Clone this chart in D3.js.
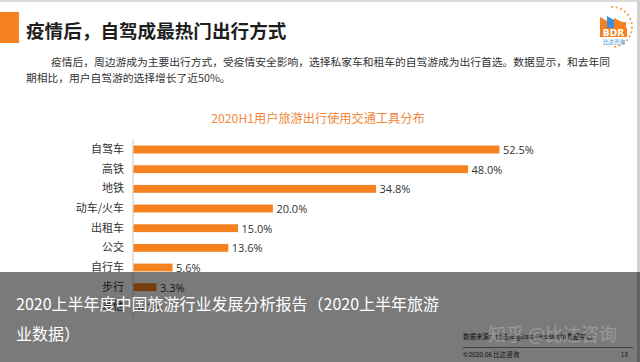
<!DOCTYPE html>
<html><head><meta charset="utf-8">
<script src="https://cdn.jsdelivr.net/npm/d3@7/dist/d3.min.js"></script>
<style>
html,body{margin:0;padding:0;background:#fff;}
svg{display:block;font-family:"Noto Sans CJK SC","Noto Sans",sans-serif;}
</style></head>
<body>
<script>
const categories = ["自驾车","高铁","地铁","动车/火车","出租车","公交","自行车","步行","其他"];
const values = [52.5, 48.0, 34.8, 20.0, 15.0, 13.6, 5.6, 3.3, 0.1];
const valueLabels = ["52.5%","48.0%","34.8%","20.0%","15.0%","13.6%","5.6%","3.3%","0.1%"];
const pageTitle = "疫情后，自驾成最热门出行方式";
const bodyLines = ["疫情后，周边游成为主要出行方式，受疫情安全影响，选择私家车和租车的自驾游成为出行首选。数据显示，和去年同",
                   "期相比，用户自驾游的选择增长了近50%。"];
const chartTitle = "2020H1用户旅游出行使用交通工具分布";
const captionLines = ["2020上半年度中国旅游行业发展分析报告（2020上半年旅游","业数据）"];

const W = 640, H = 362;
const svg = d3.select("body").append("svg").attr("width", W).attr("height", H);

// page frame
svg.append("rect").attr("x",0).attr("y",0).attr("width",W).attr("height",H).attr("fill","#fff");
svg.append("rect").attr("x",0).attr("y",0).attr("width",W).attr("height",2).attr("fill","#dcdcdc");
svg.append("rect").attr("x",637).attr("y",0).attr("width",3).attr("height",H).attr("fill","#d0d0d0");

// header
svg.append("rect").attr("x",0).attr("y",12).attr("width",19).attr("height",31).attr("fill","#f5821f");
svg.append("text").attr("x",26).attr("y",29).attr("dominant-baseline","central")
  .attr("font-size",18.6).attr("font-weight","bold").attr("fill","#1e1e1e").text(pageTitle);

svg.append("text").attr("x",51).attr("y",61).attr("dominant-baseline","central")
  .attr("font-size",10.75).attr("fill","#333").text(bodyLines[0]);
svg.append("text").attr("x",26).attr("y",77).attr("dominant-baseline","central")
  .attr("font-size",10.75).attr("fill","#333").text(bodyLines[1]);

// logo (decorative)
const logo = svg.append("g");
const arcR = 20, cx = 612, cy = 27;
for (let i = 0; i < 14; i++) {
  const a = Math.PI*0.55 + i*(Math.PI*0.95/13);
  logo.append("circle").attr("cx", cx - arcR*Math.cos(a)).attr("cy", cy + arcR*Math.sin(a))
    .attr("r",1.1).attr("fill","#f0a040");
}
logo.append("path").attr("d","M600,30 L600,17 L607,21 L607,30 Z").attr("fill","#f5821f");
logo.append("path").attr("d","M607,30 L607,16 L614,20 L614,30 Z").attr("fill","#3a8fd8");
logo.append("path").attr("d","M614,30 L614,18 L622,22 L626,22 L626,30 Z").attr("fill","#f5821f");
logo.append("rect").attr("x",600).attr("y",28).attr("width",27).attr("height",9).attr("fill","#f5821f");
logo.append("text").attr("x",613.5).attr("y",33).attr("text-anchor","middle").attr("dominant-baseline","central")
  .attr("font-size",9).attr("font-weight","bold").attr("fill","#fff").attr("font-family","DejaVu Sans").text("BDR");
logo.append("text").attr("x",614).attr("y",42).attr("text-anchor","middle").attr("dominant-baseline","central")
  .attr("font-size",5.5).attr("fill","#3a8fd8").text("比达咨询");

// chart title
svg.append("text").attr("x",318).attr("y",118).attr("text-anchor","middle").attr("dominant-baseline","central")
  .attr("font-size",12.2).attr("fill","#f0883a").text(chartTitle);

// scales
const x = d3.scaleLinear().domain([0, 60]).range([133, 133 + 60*6.97]);
const y = d3.scaleBand().domain(categories).range([139.7, 316.7]).paddingInner(0.6).paddingOuter(0.3);

// axis
const yAxis = d3.axisLeft(y).tickSize(0).tickPadding(9);
const ag = svg.append("g").attr("transform",`translate(${x(0)},0)`).call(yAxis);
ag.select(".domain").attr("stroke","#c8c8c8").attr("d","M0,140V318");
ag.selectAll("text").attr("font-size",11).attr("fill","#333")
  .attr("font-family",'"Noto Sans CJK SC",sans-serif');

// bars
const data = categories.map((c,i)=>({c, v: values[i], l: valueLabels[i]}));
svg.append("g").selectAll("rect").data(data).join("rect")
  .attr("x", x(0)+0.5).attr("y", d=>y(d.c)).attr("width", d=>x(d.v)-x(0))
  .attr("height", y.bandwidth()).attr("fill","#f5821f");
svg.append("g").selectAll("text").data(data).join("text")
  .attr("x", d=>x(d.v)+4).attr("y", d=>y(d.c)+y.bandwidth()/2).attr("dominant-baseline","central")
  .attr("font-size",11).attr("fill","#333").attr("font-family",'"Open Sans","Noto Sans",sans-serif').text(d=>d.l);

// footer (underneath overlay)
svg.append("text").attr("x",463).attr("y",336).attr("dominant-baseline","central")
  .attr("font-size",6.5).attr("fill","#222").text("数据来源：比达(BigData-Research)数据中心");
svg.append("line").attr("x1",463).attr("x2",633).attr("y1",347.5).attr("y2",347.5).attr("stroke","#666").attr("stroke-width",0.8);
svg.append("text").attr("x",463).attr("y",354).attr("dominant-baseline","central")
  .attr("font-size",6.5).attr("fill","#222").text("©2020.06  比达咨询");
svg.append("text").attr("x",628).attr("y",354).attr("text-anchor","end").attr("dominant-baseline","central")
  .attr("font-size",6.5).attr("fill","#444").text("18");

// overlay
svg.append("rect").attr("x",0).attr("y",272).attr("width",W).attr("height",H-272).attr("fill","rgba(0,0,0,0.52)");
svg.append("text").attr("x",16).attr("y",303).attr("dominant-baseline","central")
  .attr("font-size",16).attr("fill","#fff").text(captionLines[0]);
svg.append("text").attr("x",16).attr("y",333).attr("dominant-baseline","central")
  .attr("font-size",16).attr("fill","#fff").text(captionLines[1]);

// watermark
svg.append("text").attr("x",488).attr("y",333).attr("dominant-baseline","central")
  .attr("font-size",18).attr("fill","rgba(210,210,210,0.35)").attr("stroke","rgba(150,150,150,0.5)").attr("stroke-width",0.6)
  .text("知乎 @比达咨询");
</script>
</body></html>
